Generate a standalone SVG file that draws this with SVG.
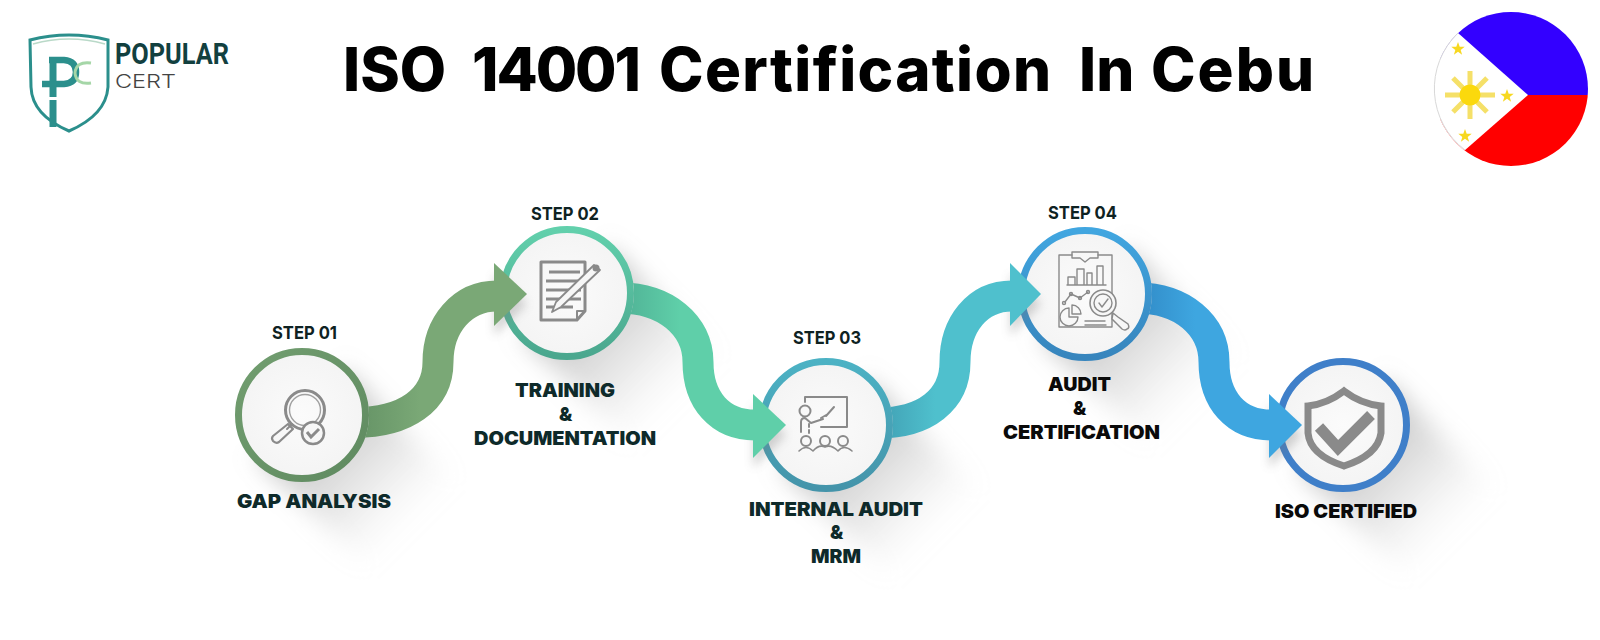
<svg xmlns="http://www.w3.org/2000/svg" width="1600" height="640" viewBox="0 0 1600 640">
<style>
text{font-family:Inter,"Liberation Sans",sans-serif}
.t{font-weight:900;font-size:19px;fill:#0e2a2a;letter-spacing:0}
.s{font-weight:700;font-size:18px;fill:#0e2222}
.ln{fill:none;stroke:#8a8a8a;stroke-width:2;stroke-linecap:round;stroke-linejoin:round}
.th{fill:none;stroke:#8a8a8a;stroke-width:3;stroke-linejoin:round}
.disc{fill:url(#disc)}
.band{fill:none;stroke-width:31}
.shade{fill:url(#fade);filter:url(#blur)}
.hs{fill:#777;opacity:.3;filter:url(#blur2)}
</style>
<defs>
<radialGradient id="disc"><stop offset="0" stop-color="#fbfbfb"/><stop offset="1" stop-color="#f4f4f4"/></radialGradient>
<linearGradient id="fade"><stop offset="0" stop-color="#8c8c8c" stop-opacity=".6"/><stop offset=".55" stop-color="#a8a8a8" stop-opacity=".3"/><stop offset="1" stop-color="#ccc" stop-opacity="0"/></linearGradient>
<filter id="blur" x="-30%" y="-30%" width="160%" height="160%"><feGaussianBlur stdDeviation="12"/></filter>
<filter id="blur2" x="-50%" y="-50%" width="200%" height="200%"><feGaussianBlur stdDeviation="5"/></filter>
<linearGradient id="a1" gradientUnits="userSpaceOnUse" x1="365" y1="0" x2="420" y2="0"><stop offset="0" stop-color="#689668"/><stop offset="1" stop-color="#7aa876"/></linearGradient>
<linearGradient id="a2" gradientUnits="userSpaceOnUse" x1="630" y1="0" x2="680" y2="0"><stop offset="0" stop-color="#52b698"/><stop offset="1" stop-color="#5fcfa9"/></linearGradient>
<linearGradient id="a3" gradientUnits="userSpaceOnUse" x1="888" y1="0" x2="935" y2="0"><stop offset="0" stop-color="#43a5b8"/><stop offset="1" stop-color="#4fc0cd"/></linearGradient>
<linearGradient id="a4" gradientUnits="userSpaceOnUse" x1="1147" y1="0" x2="1195" y2="0"><stop offset="0" stop-color="#338fcb"/><stop offset="1" stop-color="#3ea6e0"/></linearGradient>
<linearGradient id="r1" x1="0" y1="0" x2="1" y2="1"><stop offset="0" stop-color="#729e70"/><stop offset="1" stop-color="#5f8a60"/></linearGradient>
<linearGradient id="r2" x1="0" y1="0" x2="0" y2="1"><stop offset="0" stop-color="#62d0ac"/><stop offset="1" stop-color="#4aa78e"/></linearGradient>
<linearGradient id="r3" x1="0" y1="0" x2="0" y2="1"><stop offset="0" stop-color="#4cb2c4"/><stop offset="1" stop-color="#4494aa"/></linearGradient>
<linearGradient id="r4" x1="0" y1="0" x2="0" y2="1"><stop offset="0" stop-color="#41a6e0"/><stop offset="1" stop-color="#3785bd"/></linearGradient>
<clipPath id="c1"><path clip-rule="evenodd" d="M0 0H1600V640H0Z M235 415a67 67 0 1 0 134 0a67 67 0 1 0 -134 0Z"/></clipPath>
<clipPath id="c2"><path clip-rule="evenodd" d="M0 0H1600V640H0Z M500 293a67 67 0 1 0 134 0a67 67 0 1 0 -134 0Z"/></clipPath>
<clipPath id="c3"><path clip-rule="evenodd" d="M0 0H1600V640H0Z M759 425a67 67 0 1 0 134 0a67 67 0 1 0 -134 0Z"/></clipPath>
<clipPath id="c4"><path clip-rule="evenodd" d="M0 0H1600V640H0Z M1018 294a67 67 0 1 0 134 0a67 67 0 1 0 -134 0Z"/></clipPath>
<clipPath id="flagclip"><circle cx="1511" cy="89" r="77"/></clipPath>
<polygon id="star" points="0,-7 1.7,-2.2 6.7,-2.2 2.7,0.9 4.1,5.7 0,2.8 -4.1,5.7 -2.7,0.9 -6.7,-2.2 -1.7,-2.2"/>
</defs>
<rect width="1600" height="640" fill="#fff"/>

<g id="logo">
<path d="M30 40Q69 30 108 40V87Q106 115 69 131Q32 115 31 87Z" fill="#fff" stroke="#2b8f8c" stroke-width="3"/>
<path d="M33 44Q69 34 105 44" fill="none" stroke="#b9d9c8" stroke-width="1.5"/>
<path d="M49 60H64Q76 61 76 72T64 84H42" fill="none" stroke="#2b8f8c" stroke-width="6.5"/>
<path d="M53 58V97M53 100V127" fill="none" stroke="#2b8f8c" stroke-width="7"/>
<path d="M91 63Q76 61 75 73Q76 85 91 83" fill="none" stroke="#a5d6a7" stroke-width="3"/>
<text x="115" y="63.5" font-size="29" font-weight="700" fill="#12403f" textLength="114" lengthAdjust="spacingAndGlyphs" style="font-family:Roboto,sans-serif">POPULAR</text>
<text x="115" y="88" font-size="19" font-weight="300" fill="#444" textLength="61" lengthAdjust="spacingAndGlyphs">CERT</text>
</g>

<text id="title" y="91" font-size="60" font-weight="800" fill="#000"><tspan x="343">ISO</tspan> <tspan x="472" textLength="169" lengthAdjust="spacing">14001</tspan> <tspan x="659" textLength="392" lengthAdjust="spacing">Certification</tspan> <tspan x="1079">In</tspan> <tspan x="1151" textLength="163" lengthAdjust="spacing">Cebu</tspan></text>

<g id="flag">
<circle cx="1511" cy="89" r="77" fill="#fff"/>
<g clip-path="url(#flagclip)">
<rect x="1440" y="5" width="160" height="90" fill="#3300ff"/>
<rect x="1440" y="95" width="160" height="80" fill="#ff0000"/>
<polygon points="1438,15.3 1528,95 1440,172 1420,172 1420,15" fill="#fff"/>
</g>
<path d="M1458 33A77 77 0 0 0 1465 150" fill="none" stroke="#d8d8d8"/>
<path d="M1445 95H1495M1470 71V119M1453 78L1487 112M1487 78L1453 112" stroke="#f5e068" stroke-width="5" fill="none"/>
<circle cx="1470" cy="95" r="10.5" fill="#fbd90d"/>
<g fill="#f7d820"><use href="#star" x="1458" y="49"/><use href="#star" x="1507" y="96"/><use href="#star" x="1465" y="136"/></g>
</g>

<g id="shadows">
<rect class="shade" x="0" y="-62" width="155" height="124" transform="translate(302 415) rotate(45)"/>
<rect class="shade" x="0" y="-62" width="155" height="124" transform="translate(567 293) rotate(45)"/>
<rect class="shade" x="0" y="-62" width="155" height="124" transform="translate(826 425) rotate(45)"/>
<rect class="shade" x="0" y="-62" width="155" height="124" transform="translate(1085 294) rotate(45)"/>
<rect class="shade" x="0" y="-62" width="155" height="124" transform="translate(1343 425) rotate(45)"/>
</g>

<g id="step1">
<circle cx="302" cy="415" r="63.5" class="disc" stroke="url(#r1)" stroke-width="7"/>
<circle cx="305" cy="410" r="19.5" class="th"/><circle cx="305" cy="410" r="15.5" class="ln" style="stroke-width:1.4;stroke:#a0a0a0"/>
<path d="M292 424L287 429" class="ln"/>
<path d="M288 424L293 429L279 442Q276 444 273 441Q271 438 273 436Z" class="ln" style="stroke-width:2.2"/>
<circle cx="313" cy="433" r="11" fill="#f7f7f7" stroke="#8a8a8a" stroke-width="2.5"/>
<path d="M307 432L311 437L319 429" fill="none" stroke="#8a8a8a" stroke-width="3"/>
<text class="s" x="272" y="339" textLength="65" lengthAdjust="spacingAndGlyphs">STEP 01</text>
<text class="t" x="237" y="508" textLength="154" lengthAdjust="spacingAndGlyphs">GAP ANALYSIS</text>
</g>

<g id="step2">
<circle cx="567" cy="293" r="63.5" class="disc" stroke="url(#r2)" stroke-width="7"/>
<path d="M541 262H585V311L577 320H541Z" class="th"/>
<path d="M585 311H577V320" class="ln"/>
<path d="M549 272H580M546 281H580M546 290H581M546 299H581M546 307H573" stroke="#8a8a8a" stroke-width="3" fill="none"/>
<path d="M594 265L600 270L561 307L552 312L556 302Z" fill="#f7f7f7" stroke="#8a8a8a" stroke-width="1.8" stroke-linejoin="round"/>
<circle cx="596" cy="268" r="3.5" fill="#8a8a8a"/>
<text class="s" x="531" y="220" textLength="68" lengthAdjust="spacingAndGlyphs">STEP 02</text>
<text class="t" x="515" y="397" textLength="100" lengthAdjust="spacingAndGlyphs">TRAINING</text>
<text class="t" x="559" y="421">&amp;</text>
<text class="t" x="474" y="445" textLength="182" lengthAdjust="spacingAndGlyphs">DOCUMENTATION</text>
</g>

<g id="step3">
<circle cx="826" cy="425" r="63.5" class="disc" stroke="url(#r3)" stroke-width="7"/>
<path d="M805 402V397H847V427H821" class="ln"/>
<circle cx="805" cy="411" r="5.5" class="ln"/>
<path d="M801 432V422Q801 418 805 418L811 423L823 419M809 427V424M809 430V433" class="ln"/>
<path d="M821 418L828 414M826 416L834 407" class="ln"/>
<circle cx="806" cy="441" r="5" class="ln"/><circle cx="825" cy="441" r="5" class="ln"/><circle cx="843" cy="441" r="5" class="ln"/>
<path d="M799 451Q806 444 813 451Q819 444 825 447Q831 444 838 451Q844 444 852 451" class="ln" style="stroke-width:1.6"/>
<text class="s" x="793" y="344" textLength="68" lengthAdjust="spacingAndGlyphs">STEP 03</text>
<text class="t" x="749" y="516" textLength="174" lengthAdjust="spacingAndGlyphs">INTERNAL AUDIT</text>
<text class="t" x="830" y="539">&amp;</text>
<text class="t" x="811" y="563" textLength="50" lengthAdjust="spacingAndGlyphs">MRM</text>
</g>

<g id="step4">
<circle cx="1085" cy="294" r="63.5" class="disc" stroke="url(#r4)" stroke-width="7"/>
<g class="ln" style="stroke-width:1.4">
<path d="M1072 255H1059V327H1112V255H1098"/>
<path d="M1072 252H1098V258H1090L1085 262L1080 258H1072Z"/>
<path d="M1067 285H1106M1068 285V277H1075V285M1077 285V269H1084V285M1087 285V273H1092V285M1097 285V266H1103V285"/>
<path d="M1065 302L1071 294L1080 298L1088 292"/><circle cx="1064" cy="303" r="1.5"/><circle cx="1071" cy="294" r="1.5"/><circle cx="1080" cy="298" r="1.5"/><circle cx="1088" cy="292" r="1.5"/>
<path d="M1069 308A9 9 0 1 0 1078 317H1069Z"/><path d="M1072 305A9 9 0 0 1 1081 314H1072Z"/>
<path d="M1085 321H1105M1085 325H1106"/>
</g>
<circle cx="1103" cy="303" r="13" fill="#f7f7f7" stroke="#8a8a8a" stroke-width="1.6"/>
<circle cx="1103" cy="303" r="9" class="ln" style="stroke-width:1.4"/>
<path d="M1099 303L1102 307L1108 299" class="ln" style="stroke-width:1.4"/>
<path d="M1113 313L1118 317L1128 324Q1130 328 1127 329Q1125 331 1122 329L1112 319Z" fill="#f7f7f7" stroke="#8a8a8a" stroke-width="1.5"/>
<text class="s" x="1048" y="219" textLength="69" lengthAdjust="spacingAndGlyphs">STEP 04</text>
<text class="t" x="1048" y="391" textLength="63" lengthAdjust="spacingAndGlyphs" style="fill:#0a0a0a">AUDIT</text>
<text class="t" x="1073" y="415" style="fill:#0a0a0a">&amp;</text>
<text class="t" x="1003" y="439" textLength="157" lengthAdjust="spacingAndGlyphs" style="fill:#0a0a0a">CERTIFICATION</text>
</g>

<g id="step5">
<circle cx="1343" cy="425" r="63.5" class="disc" stroke="#3f7fc9" stroke-width="7"/>
<path d="M1344 391Q1327 404 1308 406V433Q1310 455 1344 466Q1378 455 1381 433V406Q1361 404 1344 391Z" fill="none" stroke="#8a8a8a" stroke-width="7"/>
<path d="M1319 427L1338 448L1371 415" fill="none" stroke="#8a8a8a" stroke-width="11"/>
<text class="t" x="1275" y="518" textLength="142" lengthAdjust="spacingAndGlyphs" style="fill:#0a0a0a">ISO CERTIFIED</text>
</g>

<g id="connectors">
<polygon class="hs" points="494,273 527,304 494,336"/>
<path class="band" stroke="url(#a1)" clip-path="url(#c1)" d="M355 422.5C405 422.5 438 400 438 362C438 325 462 296 497 296"/>
<polygon points="494,263 527,294 494,326" fill="#7aa876"/>
<polygon class="hs" points="753,404 786,435 753,468"/>
<path class="band" stroke="url(#a2)" clip-path="url(#c2)" d="M620 298C665 298 698 325 698 362C698 400 720 425 755 425"/>
<polygon points="753,394 786,425 753,458" fill="#5fcfa9"/>
<polygon class="hs" points="1010,273 1041,304 1010,336"/>
<path class="band" stroke="url(#a3)" clip-path="url(#c3)" d="M878 423C925 423 955 400 955 362C955 325 977 296 1012 296"/>
<polygon points="1010,263 1041,294 1010,326" fill="#4fc0cd"/>
<polygon class="hs" points="1269,404 1302,435 1269,468"/>
<path class="band" stroke="url(#a4)" clip-path="url(#c4)" d="M1137 298C1182 298 1214 325 1214 362C1214 400 1236 425 1271 425"/>
<polygon points="1269,394 1302,425 1269,458" fill="#3ea6e0"/>
</g>
</svg>
